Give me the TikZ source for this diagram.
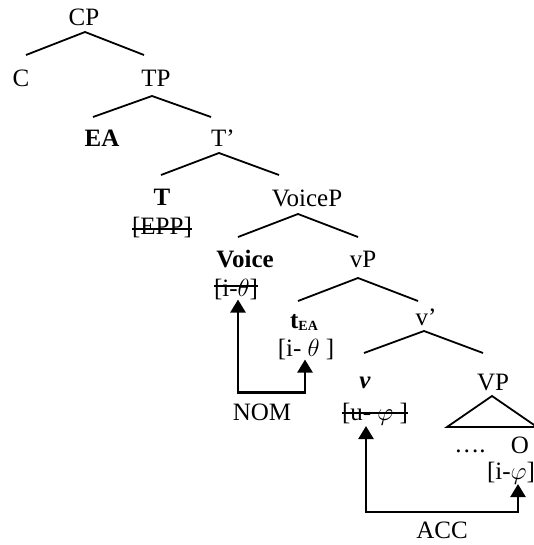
\documentclass[tikz,border=0pt]{standalone}
\usepackage{fontspec}
\setmainfont{Liberation Serif}
\usetikzlibrary{arrows.meta,calc}
\begin{document}
\begin{tikzpicture}[x=1pt,y=-1pt,
  lab/.style={anchor=base,inner sep=0pt,font=\fontsize{25}{29}\selectfont},
  br/.style={line width=1.8pt},
  arr/.style={line width=2.5pt,{Triangle[width=15pt,length=13pt]}-{Triangle[width=15pt,length=13pt]}},
  strk/.style={line width=1.6pt}]
\useasboundingbox (0,0) rectangle (534,545);
% labels
\node[lab] (cp) at (84,26) {CP};
\node[lab] (c) at (21,87) {C};
\node[lab] (tp) at (156,87) {TP};
\node[lab] (ea) at (102,147) {\textbf{EA}};
\node[lab] (tbar) at (223,147) {T’};
\node[lab] (t) at (162,205) {\textbf{T}};
\node[lab] (tf) at (162,234) {[EPP]};
\node[lab] (voicep) at (307,206) {VoiceP};
\node[lab] (voice) at (245,267) {\textbf{Voice}};
\node[lab] (vf) at (236,296) {[i-$\theta$]};
\node[lab] (vp) at (363,267) {vP};
\node[lab] (tea) at (304,328) {\textbf{t}{\fontsize{14}{14}\selectfont\raisebox{-2pt}{\textbf{EA}}}};
\node[lab] (tf2) at (306,356) {[i- $\theta$ ]};
\node[lab] (vbar) at (426,325) {v’};
\node[lab] (v) at (365,388) {\textbf{\textit{v}}};
\node[lab] (vff) at (375,420) {[u- $\varphi$ ]};
\node[lab] (VP) at (493,390) {VP};
\node[lab] (dots) at (470,452) {….};
\node[lab] (o) at (520,453) {O};
\node[lab] (of) at (511,479) {[i-$\varphi$]};
\node[lab] (nom) at (262,420) {NOM};
\node[lab] (acc) at (442,538) {ACC};
% strike-throughs
\draw[strk] ([yshift=5pt]tf.base west) -- ([yshift=5pt]tf.base east);
\draw[strk] ([yshift=10pt]vf.base west) -- ([yshift=10pt]vf.base east);
\draw[strk] ([yshift=7pt]vff.base west) -- ([yshift=7pt]vff.base east);
% branches
\draw[br] ($(c.base)+(5,-32)$) -- ($(cp.base)+(1,6)$) -- ($(tp.base)+(-12,-32)$);
\draw[br] ($(ea.base)+(-9,-30)$) -- ($(tp.base)+(-4,9)$) -- ($(tbar.base)+(-12,-30)$);
\draw[br] ($(t.base)+(-1,-30)$) -- ($(tbar.base)+(-4,6)$) -- ($(voicep.base)+(-28,-31)$);
\draw[br] ($(voice.base)+(-7,-30)$) -- ($(voicep.base)+(-9,8)$) -- ($(vp.base)+(-5,-30)$);
\draw[br] ($(tea.base)+(-6,-27)$) -- ($(vp.base)+(-5,11)$) -- ($(vbar.base)+(-8,-24)$);
\draw[br] ($(v.base)+(-1,-35)$) -- ($(vbar.base)+(-2,6)$) -- ($(VP.base)+(-10,-37)$);
\draw[br] ($(VP.base)+(-46,37)$) -- ($(VP.base)+(-1,6)$) -- ($(VP.base)+(44,37)$) -- cycle;
% agree arrows
\draw[arr] ($(vf.south)+(2,0)$) |- ($(tf2.south)+(-1,33)$) -| ($(tf2.south)+(-1,0)$);
\draw[arr] ($(vff.south)+(-9,1)$) |- ($(of.south)+(7,28)$) -| ($(of.south)+(7,0)$);
\end{tikzpicture}
\end{document}
